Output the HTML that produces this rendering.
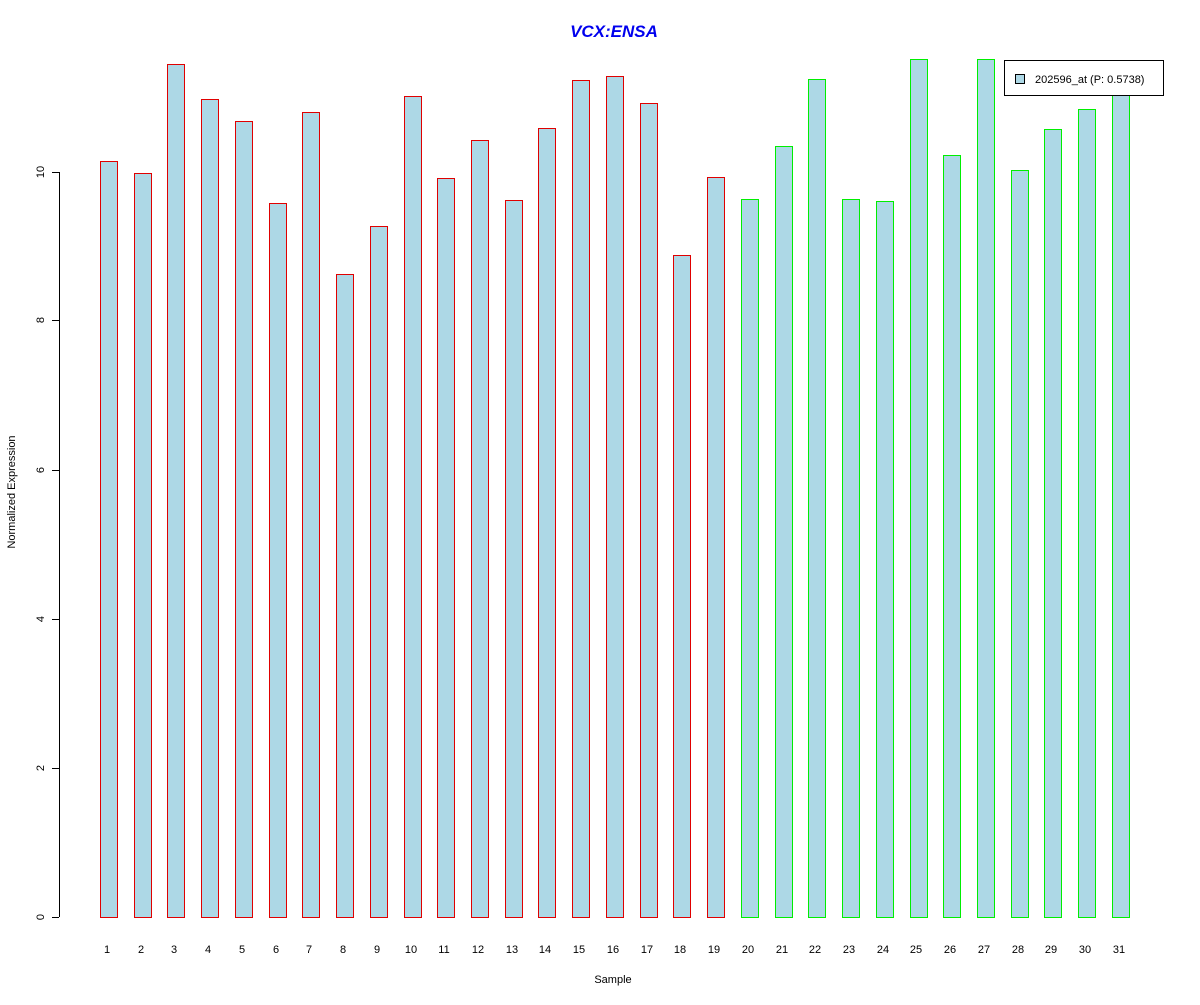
<!DOCTYPE html>
<html><head><meta charset="utf-8"><style>body{margin:0;background:#fff}</style></head><body>
<svg width="1200" height="1000" xmlns="http://www.w3.org/2000/svg" font-family="Liberation Sans, sans-serif">
<rect width="1200" height="1000" fill="#fff"/>
<text x="614" y="37" text-anchor="middle" font-size="17" font-weight="bold" font-style="italic" fill="#0000ee">VCX:ENSA</text>
<g fill="#add8e6" stroke="#e00000" stroke-width="1">
<rect x="100.5" y="161.5" width="17" height="756"/>
<rect x="134.5" y="173.5" width="17" height="744"/>
<rect x="167.5" y="64.5" width="17" height="853"/>
<rect x="201.5" y="99.5" width="17" height="818"/>
<rect x="235.5" y="121.5" width="17" height="796"/>
<rect x="269.5" y="203.5" width="17" height="714"/>
<rect x="302.5" y="112.5" width="17" height="805"/>
<rect x="336.5" y="274.5" width="17" height="643"/>
<rect x="370.5" y="226.5" width="17" height="691"/>
<rect x="404.5" y="96.5" width="17" height="821"/>
<rect x="437.5" y="178.5" width="17" height="739"/>
<rect x="471.5" y="140.5" width="17" height="777"/>
<rect x="505.5" y="200.5" width="17" height="717"/>
<rect x="538.5" y="128.5" width="17" height="789"/>
<rect x="572.5" y="80.5" width="17" height="837"/>
<rect x="606.5" y="76.5" width="17" height="841"/>
<rect x="640.5" y="103.5" width="17" height="814"/>
<rect x="673.5" y="255.5" width="17" height="662"/>
<rect x="707.5" y="177.5" width="17" height="740"/>
</g>
<g fill="#add8e6" stroke="#00ee00" stroke-width="1">
<rect x="741.5" y="199.5" width="17" height="718"/>
<rect x="775.5" y="146.5" width="17" height="771"/>
<rect x="808.5" y="79.5" width="17" height="838"/>
<rect x="842.5" y="199.5" width="17" height="718"/>
<rect x="876.5" y="201.5" width="17" height="716"/>
<rect x="910.5" y="59.5" width="17" height="858"/>
<rect x="943.5" y="155.5" width="17" height="762"/>
<rect x="977.5" y="59.5" width="17" height="858"/>
<rect x="1011.5" y="170.5" width="17" height="747"/>
<rect x="1044.5" y="129.5" width="17" height="788"/>
<rect x="1078.5" y="109.5" width="17" height="808"/>
<rect x="1112.5" y="85.5" width="17" height="832"/>
</g>
<line x1="59.5" y1="917" x2="59.5" y2="172" stroke="#000"/>
<g stroke="#000">
<line x1="52" y1="917.5" x2="59" y2="917.5"/><line x1="52" y1="768.5" x2="59" y2="768.5"/><line x1="52" y1="619.5" x2="59" y2="619.5"/><line x1="52" y1="470.5" x2="59" y2="470.5"/><line x1="52" y1="320.5" x2="59" y2="320.5"/><line x1="52" y1="172.5" x2="59" y2="172.5"/>
</g>
<g font-size="11" text-anchor="middle">
<text transform="translate(44,917) rotate(-90)">0</text>
<text transform="translate(44,768) rotate(-90)">2</text>
<text transform="translate(44,619) rotate(-90)">4</text>
<text transform="translate(44,470) rotate(-90)">6</text>
<text transform="translate(44,320) rotate(-90)">8</text>
<text transform="translate(44,172) rotate(-90)">10</text>
<text transform="translate(15,492) rotate(-90)">Normalized Expression</text>
<text x="613" y="983">Sample</text>
<text x="107" y="953">1</text><text x="141" y="953">2</text><text x="174" y="953">3</text><text x="208" y="953">4</text><text x="242" y="953">5</text><text x="276" y="953">6</text><text x="309" y="953">7</text><text x="343" y="953">8</text><text x="377" y="953">9</text><text x="411" y="953">10</text><text x="444" y="953">11</text><text x="478" y="953">12</text><text x="512" y="953">13</text><text x="545" y="953">14</text><text x="579" y="953">15</text><text x="613" y="953">16</text><text x="647" y="953">17</text><text x="680" y="953">18</text><text x="714" y="953">19</text><text x="748" y="953">20</text><text x="782" y="953">21</text><text x="815" y="953">22</text><text x="849" y="953">23</text><text x="883" y="953">24</text><text x="916" y="953">25</text><text x="950" y="953">26</text><text x="984" y="953">27</text><text x="1018" y="953">28</text><text x="1051" y="953">29</text><text x="1085" y="953">30</text><text x="1119" y="953">31</text>
</g>
<rect x="1004.5" y="60.5" width="159" height="35" fill="#fff" stroke="#000"/>
<rect x="1015.5" y="74.5" width="9" height="9" fill="#add8e6" stroke="#000"/>
<text x="1035" y="83" font-size="11">202596_at (P: 0.5738)</text>
</svg>
</body></html>
